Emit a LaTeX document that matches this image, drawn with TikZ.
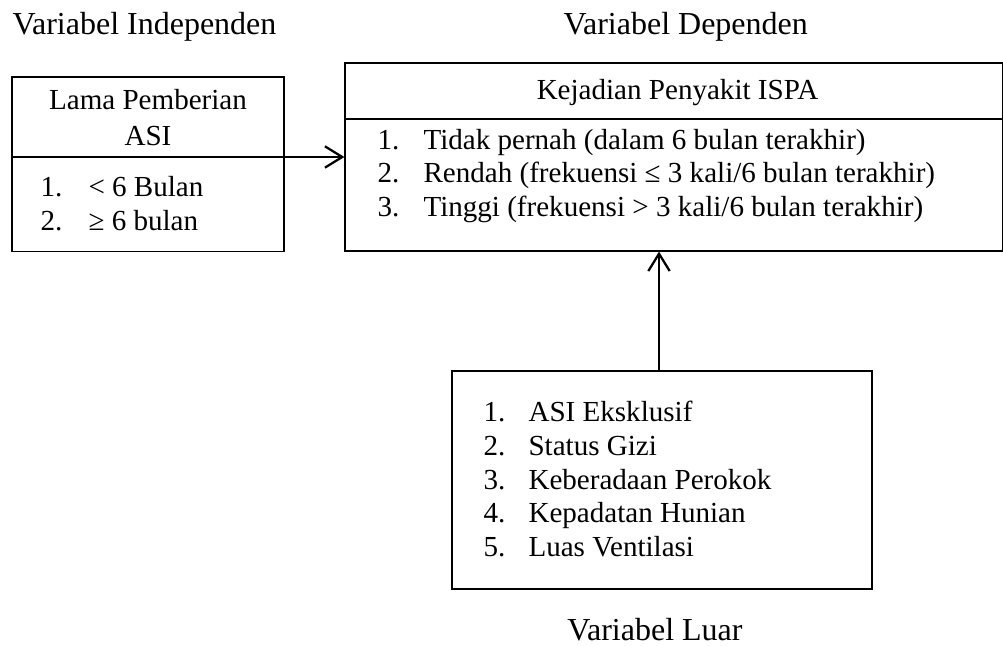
\documentclass[tikz,border=0pt]{standalone}
\usepackage{fontspec}
\setmainfont{Liberation Serif}
\usetikzlibrary{arrows.meta}
\usetikzlibrary{positioning}

\begin{document}
\begin{tikzpicture}[x=0.375pt,y=-0.375pt,>={Straight Barb[length=6.5pt,width=8pt]},
    every node/.style={font=\fontsize{10.9}{13}\selectfont},
    kotak/.style={draw,line width=0.4pt,inner sep=0pt},
    teks/.style={inner sep=0pt,anchor=base west},
    judul/.style={inner sep=0pt,anchor=base},
    besar/.style={font=\fontsize{12}{14}\selectfont},
    garis/.style={line width=0.8pt},
    panah/.style={->,line width=0.85pt}]
   \useasboundingbox (0,0) rectangle (1003,646);
   % kotak-kotak
   \node[kotak,minimum width=102pt,minimum height=65.6pt] (bebas) at (148,164.5) {};
   \node[kotak,minimum width=246.4pt,minimum height=70.5pt] (terikat) at (673.5,157) {};
   \node[kotak,minimum width=157.5pt,minimum height=81.75pt] (luar) at (662,480) {};
   % judul variabel
   \node[teks,besar] (jbebas) at (12,35) {Variabel Independen};
   \node[teks,besar] (jterikat) at (563,35) {Variabel Dependen};
   \node[judul,besar] (jluar) at (655,641) {Variabel Luar};
   % variabel independen
   \node[judul] (b1) at (148,110) {Lama Pemberian};
   \node[judul] (b2) at (148,146) {ASI};
   \coordinate (bagiA) at (12,157);
   \draw[garis] (bagiA) -- (bagiA -| bebas.east);
   \node[teks] (b3n) at (40,197) {1.};
   \node[teks] (b3) at (88,197) {< 6 Bulan};
   \node[teks] (b4n) at (40,231) {2.};
   \node[teks] (b4) at (88,231) {≥ 6 bulan};
   % variabel dependen
   \node[judul] (t1) at (677.5,100) {Kejadian Penyakit ISPA};
   \coordinate (bagiB) at (345,119);
   \draw[garis] (bagiB) -- (bagiB -| terikat.east);
   \node[teks] (t2n) at (377,150) {1.};
   \node[teks] (t2) at (423,150) {Tidak pernah (dalam 6 bulan terakhir)};
   \node[teks] (t3n) at (377,183) {2.};
   \node[teks] (t3) at (423,183) {Rendah (frekuensi ≤ 3 kali/6 bulan terakhir)};
   \node[teks] (t4n) at (377,217) {3.};
   \node[teks] (t4) at (423,217) {Tinggi (frekuensi > 3 kali/6 bulan terakhir)};
   % variabel luar
   \node[teks] (l1n) at (483,422) {1.};
   \node[teks] (l1) at (528,422) {ASI Eksklusif};
   \node[teks] (l2n) at (483,456) {2.};
   \node[teks] (l2) at (528,456) {Status Gizi};
   \node[teks] (l3n) at (483,490) {3.};
   \node[teks] (l3) at (528,490) {Keberadaan Perokok};
   \node[teks] (l4n) at (483,523) {4.};
   \node[teks] (l4) at (528,523) {Kepadatan Hunian};
   \node[teks] (l5n) at (483,557) {5.};
   \node[teks] (l5) at (528,557) {Luas Ventilasi};
   % panah
   \draw[panah] (bagiA -| bebas.east) -- (bagiA -| terikat.west);
   \coordinate (pangkal) at (659,371);
   \draw[panah] (pangkal) -- (pangkal |- terikat.south);
\end{tikzpicture}
\end{document}
